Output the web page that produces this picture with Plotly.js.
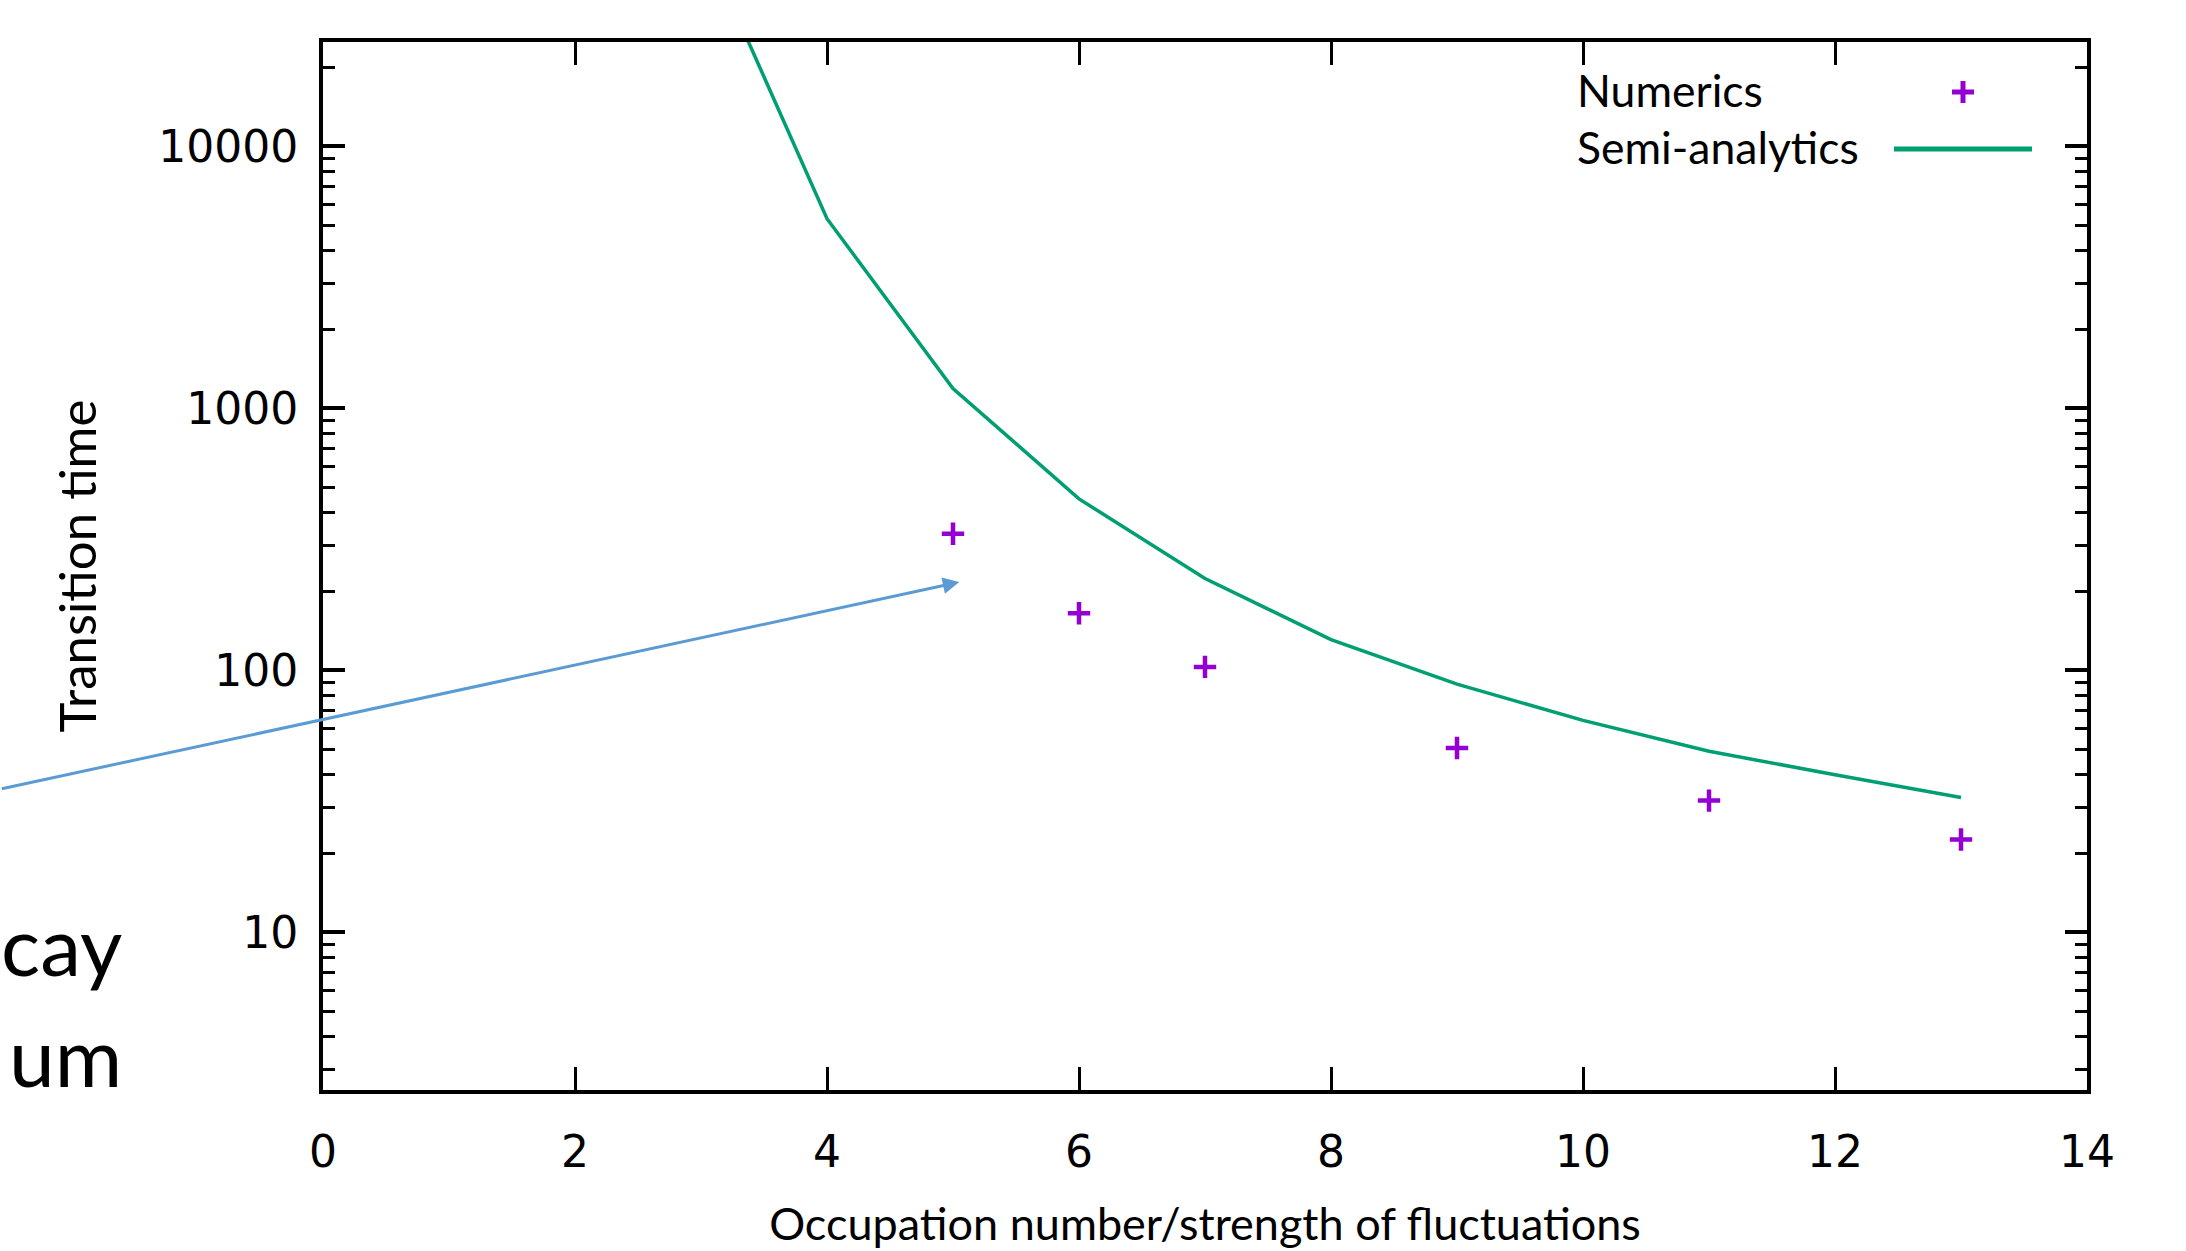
<!DOCTYPE html>
<html>
<head>
<meta charset="utf-8">
<script src="https://cdn.plot.ly/plotly-3.0.1.min.js"></script>
<style>html,body{margin:0;padding:0;background:#fff;}</style>
</head>
<body>
<div id="chart" style="width:2186px;height:1251px;"></div>
<script>
// ---- data ----
var xNumerics = [5, 6, 7, 9, 11, 13];
var yNumerics = [332, 165, 103, 50.5, 31.8, 22.6];

var xSemi = [3, 4, 5, 6, 7, 8, 9, 10, 11, 12, 13];
var ySemi = [64000, 5290, 1190, 451, 224, 131, 88.5, 64.4, 49.1, 39.9, 32.7];

var xTickVals = [0, 2, 4, 6, 8, 10, 12, 14];
var yTickVals = [10, 100, 1000, 10000];
var yTickText = ['10', '100', '1000', '10000'];

var seriesNames = ['Numerics', 'Semi-analytics'];
var xTitle = 'Occupation number/strength of fluctuations';
var yTitle = 'Transition time';
var sideText = ['cay', 'um'];

// ---- minor ticks on the log axis (2..9 of each decade) ----
var yMinor = [];
for (var d = 0; d <= 4; d++) {
  for (var k = 2; k <= 9; k++) yMinor.push(k * Math.pow(10, d));
}

var purple = '#9400D3';
var green = '#009E73';
var calibriLike = 'Lato';
var tickFont = {family: 'DejaVu Sans', size: 44, color: '#000'};

var W = 2186, H = 1251;
var mL = 323, mR = 99, mT = 42, mB = 161;
var pw = W - mL - mR, ph = H - mT - mB;
function px(x) { return (x - mL) / pw; }
function py(y) { return (H - mB - y) / ph; }

var traces = [
  {
    x: xSemi, y: ySemi, name: seriesNames[1], type: 'scatter', mode: 'lines',
    line: {color: green, width: 3.5}
  },
  {
    x: xNumerics, y: yNumerics, name: seriesNames[0], type: 'scatter', mode: 'markers',
    marker: {symbol: 'cross-thin', size: 16, color: purple, line: {color: purple, width: 4.5}}
  }
];

var layout = {
  width: W, height: H,
  margin: {l: mL, r: mR, t: mT, b: mB, pad: 0},
  paper_bgcolor: '#fff', plot_bgcolor: '#fff',
  showlegend: false,
  font: {family: calibriLike, color: '#000'},
  xaxis: {
    range: [0, 14], tickmode: 'array', tickvals: xTickVals,
    ticks: 'inside', ticklen: 23, tickwidth: 3, tickcolor: '#000',
    showline: true, linewidth: 4, linecolor: '#000', mirror: 'allticks',
    showgrid: false, zeroline: false, tickfont: tickFont, ticklabelstandoff: 20,
    title: {text: xTitle, font: {family: calibriLike, size: 45, color: '#000'}, standoff: 34},
    automargin: false
  },
  yaxis: {
    type: 'log', range: [Math.log10(2.5), Math.log10(25000)],
    tickmode: 'array', tickvals: yTickVals, ticktext: yTickText,
    ticks: 'inside', ticklen: 22, tickwidth: 4, tickcolor: '#000',
    minor: {tickmode: 'array', tickvals: yMinor, ticks: 'inside', ticklen: 12, tickwidth: 3, tickcolor: '#000', showgrid: false},
    showline: true, linewidth: 4, linecolor: '#000', mirror: 'allticks',
    showgrid: false, zeroline: false, tickfont: tickFont, ticklabelstandoff: 12,
    title: {text: yTitle, font: {family: calibriLike, size: 51, color: '#000'}, standoff: 46},
    automargin: false
  },
  shapes: [
    // legend key: cross
    {type: 'line', xref: 'paper', yref: 'paper', x0: px(1952), x1: px(1974), y0: py(92), y1: py(92), line: {color: purple, width: 5}},
    {type: 'line', xref: 'paper', yref: 'paper', x0: px(1963), x1: px(1963), y0: py(81), y1: py(103), line: {color: purple, width: 5}},
    // legend key: line
    {type: 'line', xref: 'paper', yref: 'paper', x0: px(1894), x1: px(2032), y0: py(149), y1: py(149), line: {color: green, width: 5}}
  ],
  annotations: [
    {xref: 'paper', yref: 'paper', x: px(1575), y: py(89), xanchor: 'left', yanchor: 'middle', showarrow: false,
     text: seriesNames[0], font: {family: calibriLike, size: 44.5, color: '#000'}},
    {xref: 'paper', yref: 'paper', x: px(1575), y: py(146), xanchor: 'left', yanchor: 'middle', showarrow: false,
     text: seriesNames[1], font: {family: calibriLike, size: 44.5, color: '#000'}},
    {xref: 'paper', yref: 'paper', x: px(124), y: py(944), xanchor: 'right', yanchor: 'middle', showarrow: false,
     text: sideText[0], font: {family: calibriLike, size: 82, color: '#000'}},
    {xref: 'paper', yref: 'paper', x: px(124), y: py(1055), xanchor: 'right', yanchor: 'middle', showarrow: false,
     text: sideText[1], font: {family: calibriLike, size: 82, color: '#000'}},
    // blue pointer arrow
    {xref: 'x', yref: 'y', x: 5.05, y: Math.log10(217), axref: 'pixel', ayref: 'pixel', ax: -959, ay: 207,
     text: '', showarrow: true, arrowhead: 2, arrowsize: 1.1, arrowwidth: 3, arrowcolor: '#5B9BD5', standoff: 0}
  ]
};

Plotly.newPlot('chart', traces, layout, {displayModeBar: false, staticPlot: true});
</script>
</body>
</html>
